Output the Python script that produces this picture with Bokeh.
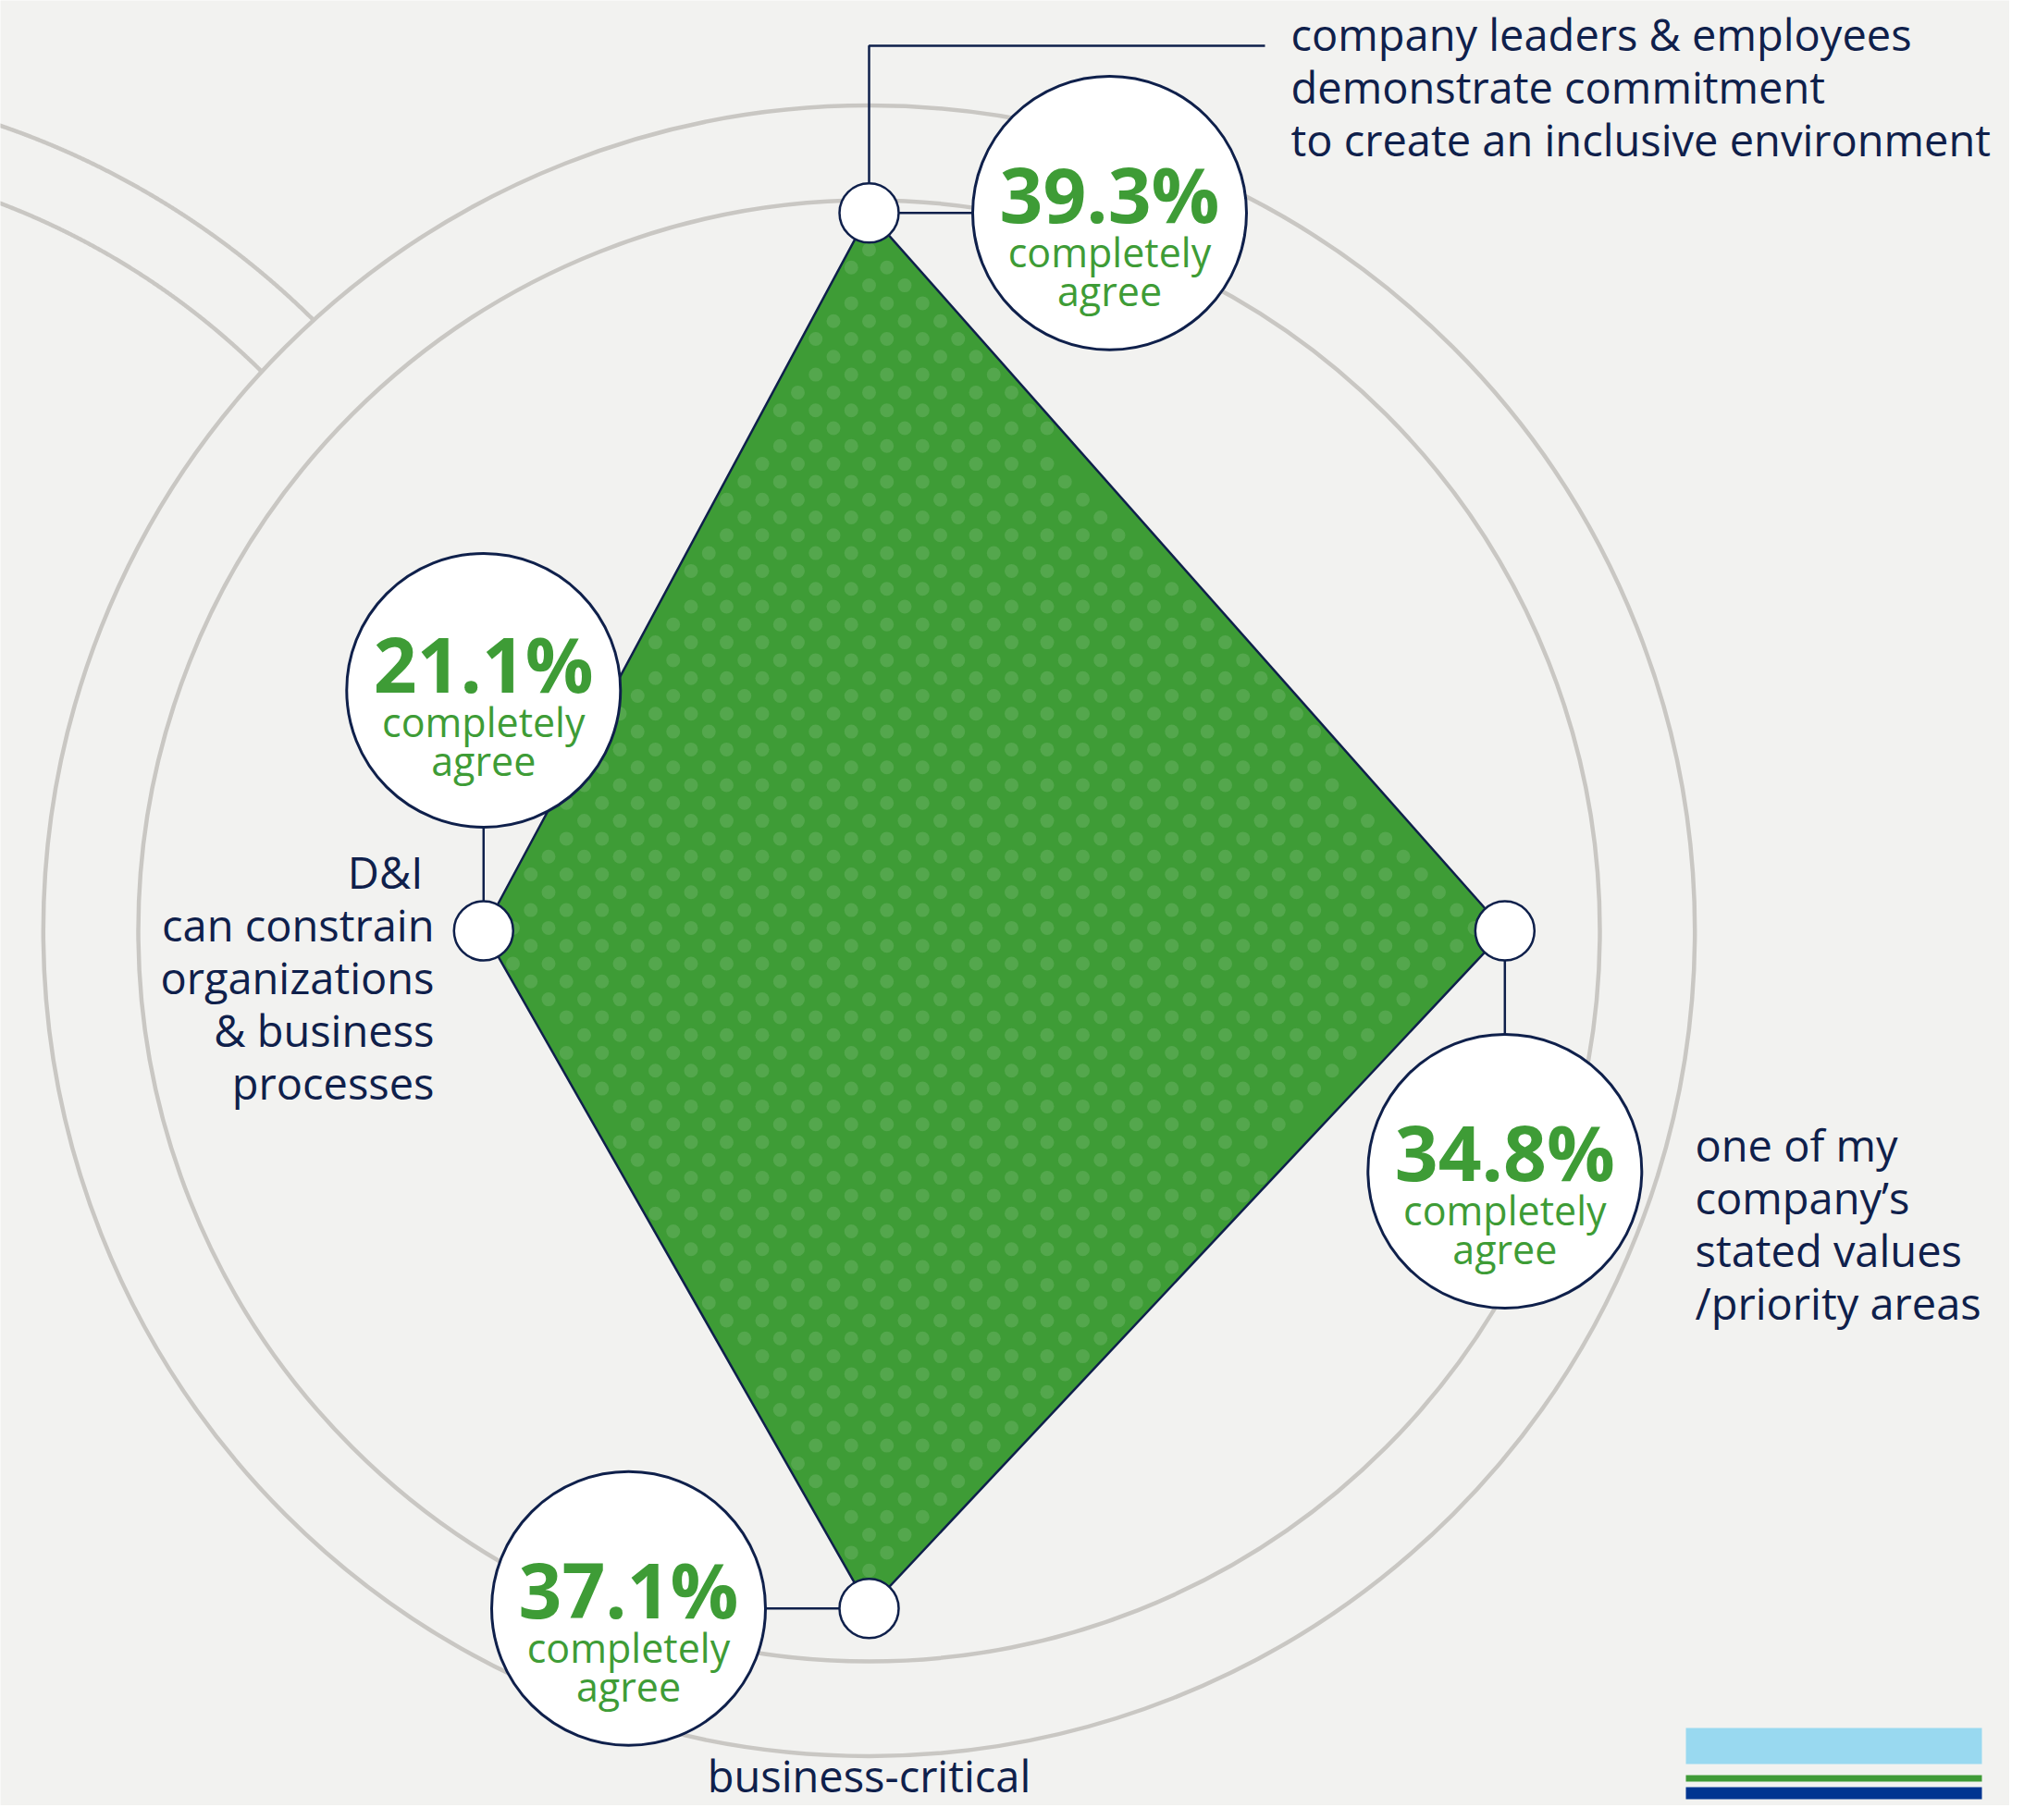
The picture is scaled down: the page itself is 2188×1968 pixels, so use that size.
import numpy as np
from bokeh.plotting import figure
from bokeh.models import Range1d
from bokeh.embed import file_html
from bokeh.resources import INLINE
from bokeh.core.properties import value

# ---------------- data ----------------
categories = [
    "company leaders & employees\ndemonstrate commitment\nto create an inclusive environment",
    "one of my\ncompany’s\nstated values\n/priority areas",
    "business-critical",
    "D&I \ncan constrain\norganizations\n& business\nprocesses",
]
values = [39.3, 34.8, 37.1, 21.1]
value_labels = ["39.3%", "34.8%", "37.1%", "21.1%"]
sub_labels = ["completely", "agree"]
ring_levels = [40.0, 45.2]

# ---------------- style / layout ----------------
BG = "#f2f2f0"
RING = "#c9c7c3"
GREEN = "#3e9c36"
DOT = "#54a74d"
NAVY = "#0f204b"
FONT = value("Open Sans")
BASE_K = 0.35   # baseline compensation (fraction of font size)

W, H = 2172, 1952
CX, CY = 939.0, 1006.0       # radar centre (px)
K = 19.75                    # px per percentage point
ANG = np.radians([90, 0, -90, 180])   # top, right, bottom, left

p = figure(width=W, height=H, x_range=Range1d(0, W), y_range=Range1d(H, 0),
           output_backend="svg", toolbar_location=None, min_border=0,
           x_axis_location=None, y_axis_location=None,
           background_fill_color=BG, border_fill_color=BG, outline_line_color=None)
p.grid.visible = False


def text_at(xs, ys, txt, size, **kw):
    ys = np.asarray(ys, dtype=float) - BASE_K * size
    p.text(x=list(xs), y=list(ys), text=txt, text_font=FONT, text_font_size=f"{size}px",
           text_baseline="alphabetic", **kw)


# neighbouring chart's rings (partially visible, top-left)
NX, NY = -290.0, 980.0
outer_r = ring_levels[1] * K
for r in [893.0, 814.0]:
    t = np.linspace(-np.pi / 2, 0.2, 1500)
    ax = NX + r * np.cos(t)
    ay = NY + r * np.sin(t)
    keep = (np.hypot(ax - CX, ay - CY) > outer_r) & (ax > -20) & (ay < CY)
    ax = np.where(keep, ax, np.nan)
    ay = np.where(keep, ay, np.nan)
    p.line(ax, ay, line_color=RING, line_width=4.5)

# main rings
p.circle(x=[CX] * len(ring_levels), y=[CY] * len(ring_levels),
         radius=[lv * K for lv in ring_levels],
         fill_color=None, line_color=RING, line_width=4.5)

# polygon vertices from values
vals = np.array(values)
px = CX + vals * K * np.cos(ANG)
py = CY - vals * K * np.sin(ANG)

p.patch(px, py, fill_color=GREEN, line_color=None)

# dotted texture inside polygon
DOT_R = 7.5
dx_sp, dy_sp = 38.5, 19.3
ys_rows = 732.7 + dy_sp * np.arange(-40, 60)
dots_x, dots_y = [], []
gx_c, gy_c = px.mean(), py.mean()
n = len(px)
edges = []
for i in range(n):
    a = np.array([px[i], py[i]]); b = np.array([px[(i + 1) % n], py[(i + 1) % n]])
    d = b - a
    nrm = np.array([-d[1], d[0]]) / np.hypot(*d)
    if np.dot(np.array([gx_c, gy_c]) - a, nrm) < 0:
        nrm = -nrm
    edges.append((a, nrm))
for j, yy in enumerate(ys_rows):
    off = 0.0 if j % 2 == 0 else dx_sp / 2
    xs_row = CX + off + dx_sp * np.arange(-40, 40)
    for xx in xs_row:
        pt = np.array([xx, yy])
        if all(np.dot(pt - a, nrm) >= DOT_R + 1.5 for a, nrm in edges):
            dots_x.append(xx); dots_y.append(yy)
p.circle(x=dots_x, y=dots_y, radius=DOT_R, fill_color=DOT, line_color=None)

p.patch(px, py, fill_color=None, line_color=NAVY, line_width=2.5)

# label bubble positions: offset from each node
NODE_R = 32.0
BUB_R = 148.0
BUB_OFF = 260.0
bub_dir = [(1, 0), (0, 1), (-1, 0), (0, -1)]
bx = px + BUB_OFF * np.array([d[0] for d in bub_dir])
by = py + BUB_OFF * np.array([d[1] for d in bub_dir])

# connectors node -> bubble
for i in range(n):
    ux, uy = bub_dir[i]
    p.line([px[i] + ux * NODE_R, bx[i] - ux * BUB_R],
           [py[i] + uy * NODE_R, by[i] - uy * BUB_R],
           line_color=NAVY, line_width=2.5)

# leader line for the top category label
TOP_LINE_Y = 49
p.line([px[0], px[0], 1367], [py[0] - NODE_R, TOP_LINE_Y, TOP_LINE_Y],
       line_color=NAVY, line_width=2.5)

# nodes
p.circle(x=px, y=py, radius=NODE_R, fill_color="white", line_color=NAVY, line_width=2.5)

# bubbles
p.circle(x=bx, y=by, radius=BUB_R, fill_color="white", line_color=NAVY, line_width=3)

shift = np.array([0, 0, 0, -8])
text_at(bx, by + 7 + shift, value_labels, 82, text_font_style="bold",
        text_color=GREEN, text_align="center")
text_at(bx, by + 57 + shift, [sub_labels[0]] * n, 43, text_color=GREEN, text_align="center")
text_at(bx, by + 99 + shift, [sub_labels[1]] * n, 43, text_color=GREEN, text_align="center")

# category labels
LINE_H = 57
lab_pos = [(1395, 53, "left"), (1832, 1254, "left"), (CX, 1936, "center"), (469, 959, "right")]
for cat, (lx, ly, al) in zip(categories, lab_pos):
    lines = cat.split("\n")
    text_at([lx] * len(lines), [ly + LINE_H * k for k in range(len(lines))], lines, 47,
            text_color=NAVY, text_align=al)

# logo bars (bottom right)
p.quad(left=[1822, 1822, 1822], right=[2142, 2142, 2142],
       top=[1868, 1919, 1932], bottom=[1907, 1926, 1945],
       fill_color=["#99d9f0", "#3f9b37", "#003591"], line_color=None)

open("out.html", "w").write(file_html(p, INLINE))
